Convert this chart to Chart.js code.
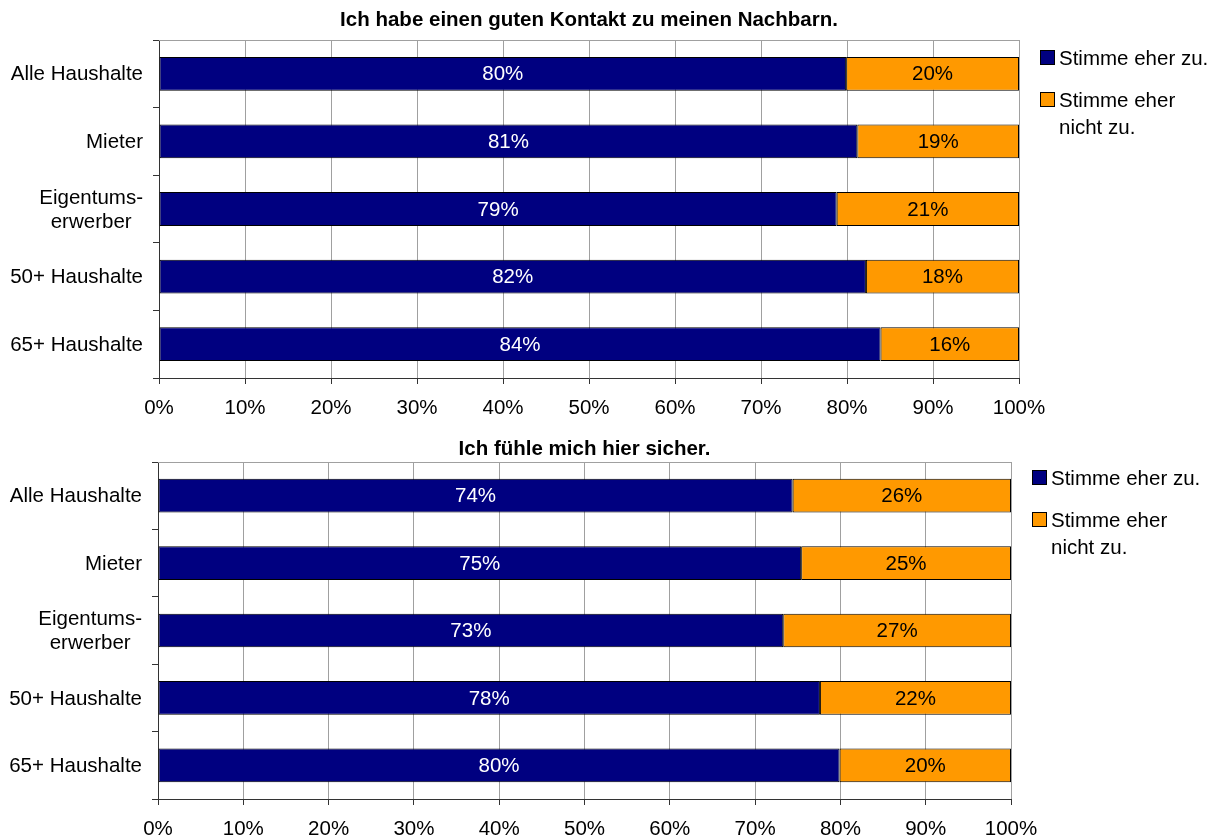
<!DOCTYPE html>
<html>
<head>
<meta charset="utf-8">
<script src="https://cdn.jsdelivr.net/npm/chart.js@4/dist/chart.umd.min.js"></script>
<style>
    body { margin: 0; background: #fff; font-family: "Liberation Sans", Arial, sans-serif; }
    .wrap { position: absolute; left: 0; width: 1218px; }
    .legend { position: absolute; font-size: 20.5px; line-height: 27px; color: #000; }
    .item { display: flex; align-items: flex-start; margin-bottom: 15px; }
    .box { width: 13px; height: 13px; border: 1px solid #000; margin-top: 6px; margin-right: 4px; flex: none; }
    .txt { width: 154px; }
</style>
</head>
<body>
<div class="wrap" style="top:0;height:420px"><canvas id="chartKontakt" width="1218" height="420"></canvas></div>
<div class="wrap" style="top:420px;height:419px"><canvas id="chartSicher" width="1218" height="419"></canvas></div>
<div class="legend" id="legendKontakt" style="left:1040px;top:44px"></div>
<div class="legend" id="legendSicher" style="left:1032px;top:464px"></div>

<script>
const categories = ["Alle Haushalte", "Mieter", ["Eigentums-", "erwerber"], "50+ Haushalte", "65+ Haushalte"];
const seriesNames = ["Stimme eher zu.", "Stimme eher nicht zu."];
const seriesColors = ["#000080", "#FF9900"];

// Ich habe einen guten Kontakt zu meinen Nachbarn.
const kontaktZu = [79.9, 81.2, 78.8, 82.2, 83.9];
const kontaktNichtZu = [20.1, 18.8, 21.2, 17.8, 16.1];

// Ich fühle mich hier sicher.
const sicherZu = [74.4, 75.4, 73.3, 77.6, 79.9];
const sicherNichtZu = [25.6, 24.6, 26.7, 22.4, 20.1];

const fontFamily = "'Liberation Sans', Arial, sans-serif";
const fontSize = 20.5;

Chart.defaults.font.family = fontFamily;
Chart.defaults.font.size = fontSize;
Chart.defaults.color = "#000";

const axisColor = "#333";
const gridColor = "#a0a0a0";

// percent labels in the middle of each segment
const barLabels = {
    id: "barLabels",
    afterDatasetsDraw(chart) {
        const ctx = chart.ctx;
        ctx.save();
        ctx.font = fontSize + "px " + fontFamily;
        ctx.textAlign = "center";
        ctx.textBaseline = "middle";
        chart.data.datasets.forEach((ds, i) => {
            ctx.fillStyle = i === 0 ? "#fff" : "#000";
            chart.getDatasetMeta(i).data.forEach((bar, j) => {
                ctx.fillText(Math.round(ds.data[j]) + "%", (bar.x + bar.base) / 2, bar.y + 1);
            });
        });
        ctx.restore();
    },
};

// top border of the plot area + category labels (multi-line centred)
const frame = {
    id: "frame",
    beforeDatasetsDraw(chart) {
        const { ctx, chartArea } = chart;
        ctx.save();
        ctx.strokeStyle = gridColor;
        ctx.lineWidth = 1;
        ctx.beginPath();
        ctx.moveTo(chartArea.left, chartArea.top + 0.5);
        ctx.lineTo(chartArea.right + 1, chartArea.top + 0.5);
        ctx.stroke();
        ctx.restore();
    },
    afterDraw(chart) {
        const ctx = chart.ctx;
        const yScale = chart.scales.y;
        const right = chart.chartArea.left - 16;
        ctx.save();
        ctx.font = fontSize + "px " + fontFamily;
        ctx.fillStyle = "#000";
        ctx.textAlign = "center";
        ctx.textBaseline = "middle";
        chart.data.labels.forEach((label, i) => {
            const lines = Array.isArray(label) ? label : [label];
            const w = Math.max(...lines.map((l) => ctx.measureText(l).width));
            const y = yScale.getPixelForValue(i);
            lines.forEach((l, k) => {
                ctx.fillText(l, right - w / 2, y + 1 + (k - (lines.length - 1) / 2) * 24);
            });
        });
        ctx.restore();
    },
};

const makeChart = (id, title, zu, nichtZu, opt) => {
    return new Chart(document.getElementById(id), {
        type: "bar",
        data: {
            labels: categories,
            datasets: [
                { label: seriesNames[0], data: zu, backgroundColor: seriesColors[0] },
                { label: seriesNames[1], data: nichtZu, backgroundColor: seriesColors[1] },
            ],
        },
        options: {
            indexAxis: "y",
            responsive: false,
            animation: false,
            layout: { padding: { left: 0, right: opt.padRight, top: 0, bottom: 0 } },
            datasets: {
                bar: {
                    borderColor: "#000",
                    borderWidth: 1,
                    borderSkipped: false,
                    categoryPercentage: 1,
                    barPercentage: 0.5,
                },
            },
            scales: {
                x: {
                    stacked: true,
                    min: 0,
                    max: 100,
                    afterFit: (s) => { s.height = opt.xHeight; },
                    ticks: {
                        stepSize: 10,
                        padding: 12,
                        maxRotation: 0,
                        callback: (v) => v + "%",
                    },
                    grid: {
                        color: (c) => (c.index === 0 ? axisColor : gridColor),
                        tickColor: axisColor,
                        tickLength: 6,
                    },
                    border: { color: axisColor },
                },
                y: {
                    stacked: true,
                    afterFit: (s) => { s.width = opt.yWidth; },
                    ticks: { display: false },
                    grid: {
                        drawOnChartArea: false,
                        color: axisColor,
                        tickLength: 6,
                    },
                    border: { color: axisColor },
                },
            },
            plugins: {
                legend: { display: false },
                tooltip: { enabled: false },
                title: {
                    display: true,
                    text: title,
                    fullSize: false,
                    color: "#000",
                    font: { size: fontSize, weight: "bold" },
                    padding: opt.titlePad,
                },
            },
        },
        plugins: [frame, barLabels],
    });
};

makeChart("chartKontakt", "Ich habe einen guten Kontakt zu meinen Nachbarn.", kontaktZu, kontaktNichtZu, {
    padRight: 199, yWidth: 159, xHeight: 42, titlePad: { top: 8, bottom: 7.4 },
});
makeChart("chartSicher", "Ich fühle mich hier sicher.", sicherZu, sicherNichtZu, {
    padRight: 207, yWidth: 158, xHeight: 40, titlePad: { top: 17, bottom: 0.4 },
});

// html legends
const buildLegend = (elId) => {
    const el = document.getElementById(elId);
    seriesNames.forEach((name, i) => {
        const item = document.createElement("div");
        item.className = "item";
        item.innerHTML = `<span class="box" style="background:${seriesColors[i]}"></span><span class="txt">${name}</span>`;
        el.appendChild(item);
    });
};
buildLegend("legendKontakt");
buildLegend("legendSicher");
</script>
</body>
</html>
